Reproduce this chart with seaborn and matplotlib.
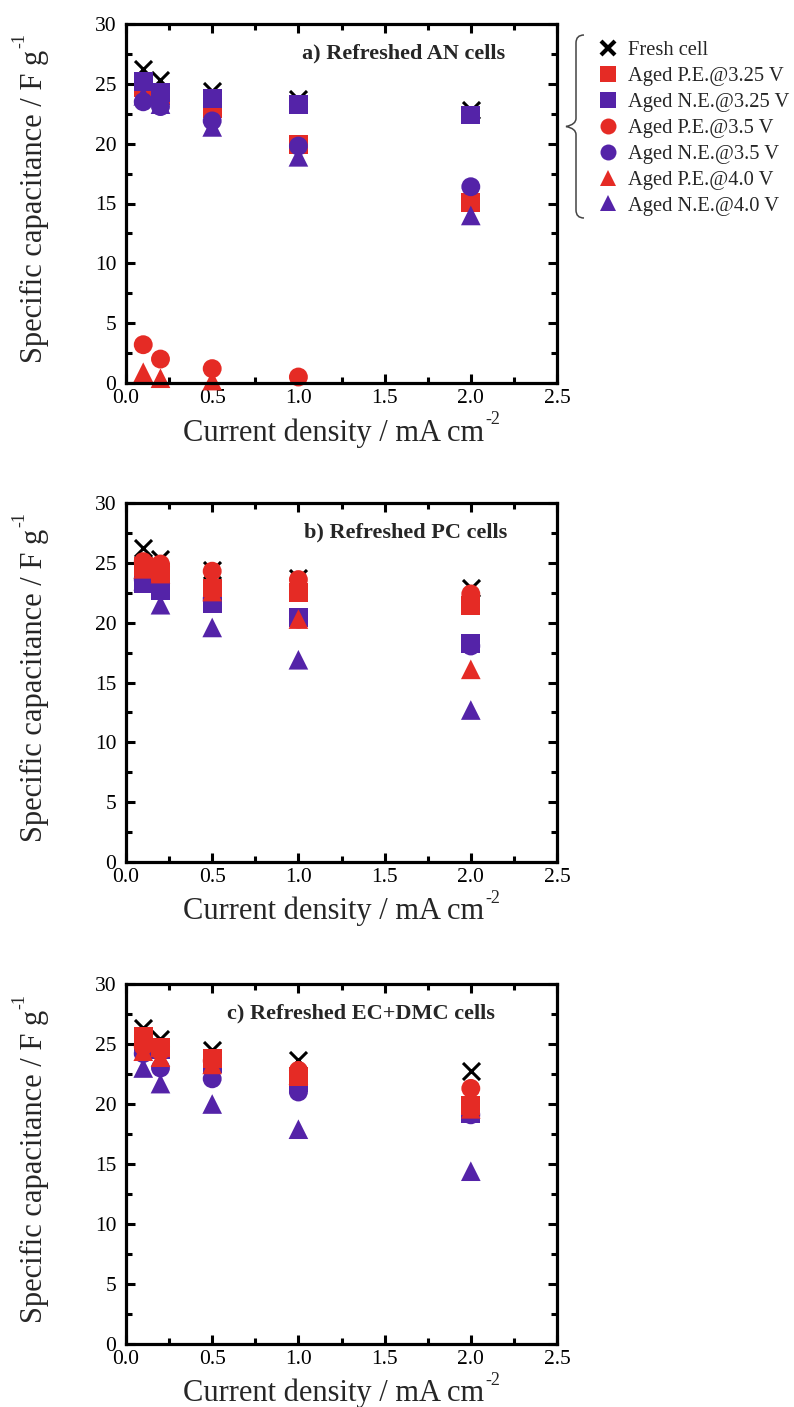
import numpy as np
import pandas as pd
import matplotlib
matplotlib.use("Agg")
import matplotlib.pyplot as plt
from matplotlib.path import Path
from matplotlib.patches import PathPatch
from matplotlib.lines import Line2D
from matplotlib.ticker import MultipleLocator
import seaborn as sns

# ---- data -------------------------------------------------------------
current_density = [0.1, 0.2, 0.5, 1.0, 2.0]

series_labels = [
    "Fresh cell",
    "Aged P.E.@3.25 V",
    "Aged N.E.@3.25 V",
    "Aged P.E.@3.5 V",
    "Aged N.E.@3.5 V",
    "Aged P.E.@4.0 V",
    "Aged N.E.@4.0 V",
]

# a) AN electrolyte
fresh_an = [26.2, 25.3, 24.4, 23.7, 22.8]
pe325_an = [24.7, 24.0, 22.9, 19.9, 15.1]
ne325_an = [25.2, 24.3, 23.8, 23.3, 22.4]
pe35_an = [3.2, 2.0, 1.2, 0.5, np.nan]
ne35_an = [23.5, 23.1, 21.9, 19.8, 16.4]
pe40_an = [0.9, 0.4, 0.2, np.nan, np.nan]
ne40_an = [24.0, 23.3, 21.4, 18.9, 14.0]

# b) PC electrolyte
fresh_pc = [26.2, 25.3, 24.4, 23.7, 22.9]
pe325_pc = [24.7, 24.2, 22.9, 22.5, 21.4]
ne325_pc = [23.3, 22.7, 21.6, 20.4, 18.25]
pe35_pc = [25.1, 24.9, 24.3, 23.6, 22.4]
ne35_pc = [23.6, 23.2, 22.0, 20.3, 18.05]
pe40_pc = [24.5, 24.1, 22.6, 20.3, 16.1]
ne40_pc = [23.5, 21.5, 19.6, 16.9, 12.7]

# c) EC+DMC electrolyte
fresh_ecdmc = [26.3, 25.4, 24.5, 23.7, 22.75]
pe325_ecdmc = [25.6, 24.7, 23.8, 22.3, 19.9]
ne325_ecdmc = [25.2, 24.5, 23.4, 21.8, 19.2]
pe35_ecdmc = [24.8, 24.4, 23.6, 22.8, 21.3]
ne35_ecdmc = [24.2, 23.0, 22.1, 21.0, 19.1]
pe40_ecdmc = [24.4, 23.9, 23.3, 22.4, 19.6]
ne40_ecdmc = [23.0, 21.7, 20.0, 17.9, 14.4]

panel_titles = ["a) Refreshed AN cells", "b) Refreshed PC cells",
                "c) Refreshed EC+DMC cells"]
panel_data = [
    [fresh_an, pe325_an, ne325_an, pe35_an, ne35_an, pe40_an, ne40_an],
    [fresh_pc, pe325_pc, ne325_pc, pe35_pc, ne35_pc, pe40_pc, ne40_pc],
    [fresh_ecdmc, pe325_ecdmc, ne325_ecdmc, pe35_ecdmc, ne35_ecdmc,
     pe40_ecdmc, ne40_ecdmc],
]

x_ticks = [0.0, 0.5, 1.0, 1.5, 2.0, 2.5]
y_ticks = [0, 5, 10, 15, 20, 25, 30]

# ---- styling ----------------------------------------------------------
sns.set_theme(style="ticks")
plt.rcParams["font.family"] = ["Liberation Serif", "DejaVu Serif"]

RED = "#E52B25"
PURPLE = "#5423A8"
series_style = [
    dict(marker="x", color="black"),
    dict(marker="s", color=RED),
    dict(marker="s", color=PURPLE),
    dict(marker="o", color=RED),
    dict(marker="o", color=PURPLE),
    dict(marker="^", color=RED),
    dict(marker="^", color=PURPLE),
]
marker_size = {"x": 150, "s": 185, "o": 185, "^": 200}

# drawing order of series (index into series lists) per panel
draw_orders = [
    [0, 1, 3, 5, 6, 4, 2],
    [0, 6, 4, 2, 5, 1, 3],
    [0, 6, 4, 2, 5, 3, 1],
]

W, H = 794, 1407
fig = plt.figure(figsize=(W / 100, H / 100), dpi=100)

axes_px = [(126, 24, 557, 383), (126, 503, 557, 862), (126, 984, 557, 1344)]
title_right_px = [505, 507, 495]
PX = 72 / 100  # points per pixel

for k, (l, t, r, b) in enumerate(axes_px):
    aw, ah = r - l, b - t
    ax = fig.add_axes([l / W, 1 - b / H, aw / W, ah / H])
    values = panel_data[k]
    for z, i in enumerate(draw_orders[k]):
        df = pd.DataFrame({"current": current_density, "cap": values[i]})
        st = series_style[i]
        if st["marker"] == "x":
            sns.scatterplot(data=df, x="current", y="cap", ax=ax,
                            marker="x", color="black", s=marker_size["x"],
                            linewidth=2.2, zorder=3 + z, clip_on=False)
        else:
            sns.scatterplot(data=df, x="current", y="cap", ax=ax,
                            marker=st["marker"], color=st["color"],
                            s=marker_size[st["marker"]], linewidth=0,
                            edgecolor="none", zorder=3 + z, clip_on=False)

    ax.set_xlim(0, 2.5)
    ax.set_ylim(0, 30)
    ax.set_xticks(x_ticks)
    ax.set_xticklabels([f"{v:.1f}" for v in x_ticks])
    ax.set_yticks(y_ticks)
    ax.set_yticklabels([str(v) for v in y_ticks])
    ax.xaxis.set_minor_locator(MultipleLocator(0.25))
    ax.yaxis.set_minor_locator(MultipleLocator(2.5))
    ax.tick_params(which="both", direction="in", top=True, right=True,
                   width=2.2, colors="black")
    ax.tick_params(which="major", length=6.5, labelsize=15.5)
    ax.tick_params(which="minor", length=4)
    ax.tick_params(axis="y", which="major", pad=7)
    ax.tick_params(axis="x", which="major", pad=4)
    for sp in ax.spines.values():
        sp.set_linewidth(2.3)
        sp.set_color("black")
        sp.set_zorder(20)

    # axis titles with raised exponents
    ax.set_xlabel("Current density / mA cm", fontsize=22)
    ax.xaxis.set_label_coords(0.5 - 8 / aw, -35 / ah)
    ax.annotate("-2", xy=(1, 1), xycoords=ax.xaxis.label,
                xytext=(1 * PX, 7 * PX), textcoords="offset points",
                ha="left", va="top", fontsize=13)
    ax.set_ylabel("Specific capacitance / F g", fontsize=22)
    ax.yaxis.set_label_coords((49 - l) / aw, 0.493)
    ax.annotate("-1", xy=(0, 1), xycoords=ax.yaxis.label,
                xytext=(-9 * PX, 1 * PX), textcoords="offset points",
                ha="left", va="bottom", rotation=90, fontsize=13)

    ax.text((title_right_px[k] - l) / aw, 1 - 29 / ah,
            panel_titles[k], transform=ax.transAxes, ha="right",
            va="center", fontsize=16, fontweight="bold")

# ---- legend with a brace ---------------------------------------------
handles = []
for st in series_style:
    if st["marker"] == "x":
        handles.append(Line2D([], [], linestyle="none", marker="x",
                              color="black", markersize=10,
                              markeredgewidth=3))
    else:
        handles.append(Line2D([], [], linestyle="none", marker=st["marker"],
                              color=st["color"], markersize=11.5,
                              markeredgewidth=0))
fig.legend(handles, series_labels, loc="upper left",
           bbox_to_anchor=(595.6 / W, 1 - 40.5 / H), frameon=False,
           fontsize=14.8, handletextpad=0.37, labelspacing=0.32,
           borderpad=0, borderaxespad=0, handlelength=1.2)


def brace_path(x, y_top, y_bot, tip_x, hook):
    ym = (y_top + y_bot) / 2
    pts = [
        (x + hook, y_top), (x, y_top), (x, y_top + 8),
        (x, ym - 8), (x, ym - 2), (tip_x, ym),
        (x, ym + 2), (x, ym + 8),
        (x, y_bot - 8), (x, y_bot), (x + hook, y_bot),
    ]
    codes = [Path.MOVETO, Path.CURVE3, Path.CURVE3,
             Path.LINETO, Path.CURVE3, Path.CURVE3,
             Path.CURVE3, Path.CURVE3,
             Path.LINETO, Path.CURVE3, Path.CURVE3]
    pts = [(px / W, 1 - py / H) for px, py in pts]
    return Path(pts, codes)


fig.add_artist(PathPatch(brace_path(576, 35, 218, 566, 8),
                         transform=fig.transFigure, facecolor="none",
                         edgecolor="#444444", linewidth=1.1))

fig.savefig("out.png", dpi=100)
